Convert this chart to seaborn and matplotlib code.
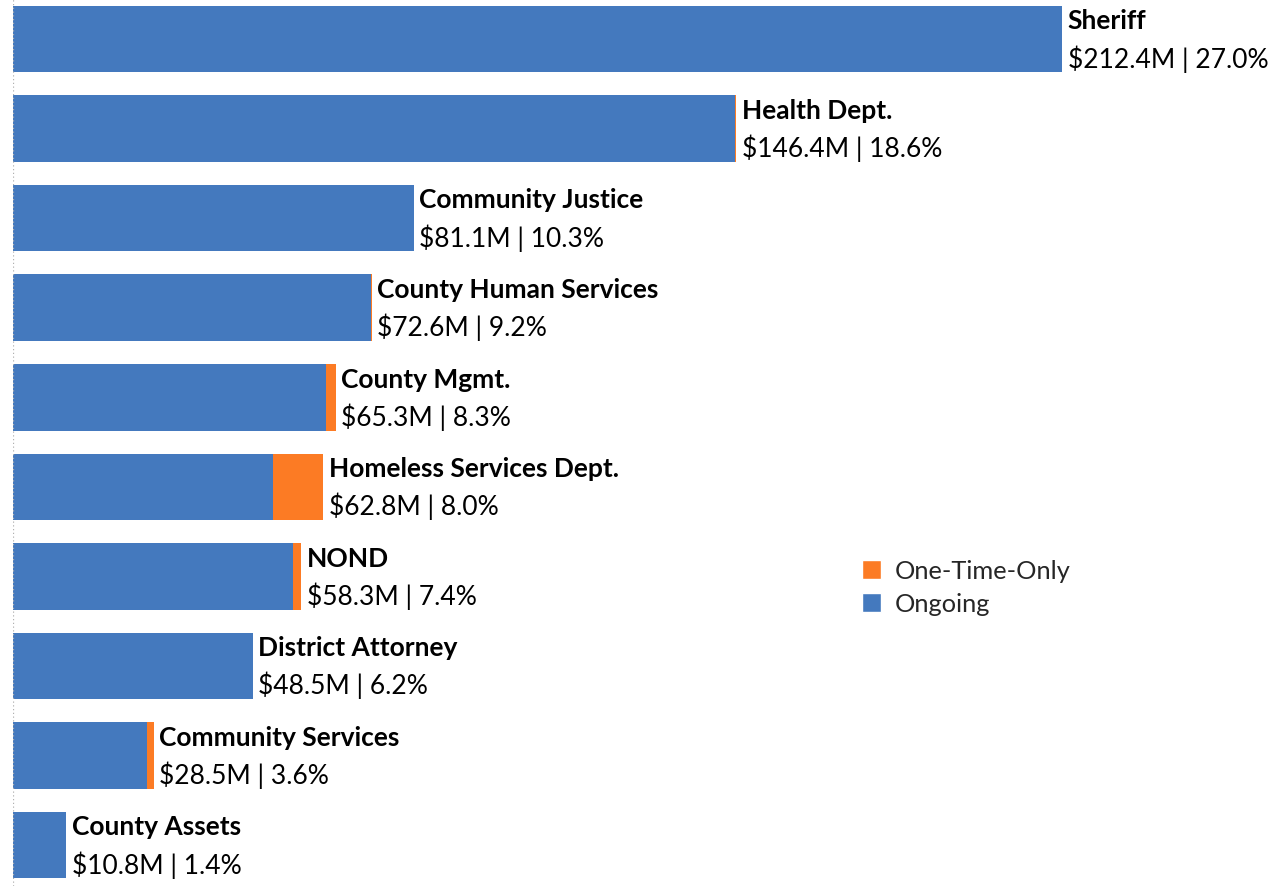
import matplotlib
matplotlib.use("Agg")
import matplotlib.pyplot as plt
import seaborn as sns
import pandas as pd
from matplotlib.patches import Patch

# General fund by department, $M
departments = ["Sheriff", "Health Dept.", "Community Justice", "County Human Services",
               "County Mgmt.", "Homeless Services Dept.", "NOND", "District Attorney",
               "Community Services", "County Assets"]
totals = [212.4, 146.4, 81.1, 72.6, 65.3, 62.8, 58.3, 48.5, 28.5, 10.8]
one_time = [0.0, 0.3, 0.0, 0.2, 1.9, 10.1, 1.6, 0.0, 1.3, 0.1]
shares = [27.0, 18.6, 10.3, 9.2, 8.3, 8.0, 7.4, 6.2, 3.6, 1.4]

ongoing = [t - o for t, o in zip(totals, one_time)]
df = pd.DataFrame({"dept": departments, "total": totals, "ongoing": ongoing})

BLUE = "#4479BE"
ORANGE = "#FC7B24"

sns.set_theme(style="white")
plt.rcParams["font.family"] = ["Lato", "DejaVu Sans"]

fig = plt.figure(figsize=(12.85, 8.87), dpi=100)
ax = fig.add_axes([13 / 1285, 0, 1 - 13 / 1285, 1])

# total bar in orange, ongoing portion drawn over it in blue
sns.barplot(data=df, y="dept", x="total", color=ORANGE, orient="h",
            width=0.744, ax=ax, saturation=1, linewidth=0)
sns.barplot(data=df, y="dept", x="ongoing", color=BLUE, orient="h",
            width=0.744, ax=ax, saturation=1, linewidth=0)

ax.set_xlim(0, 257.5)
ax.set_ylim(9.457, -0.447)
for s in ax.spines.values():
    s.set_visible(False)
ax.set_xticks([])
ax.set_yticks([])
ax.set_xlabel("")
ax.set_ylabel("")
ax.axvline(0, color="#B0B0B0", linestyle=(0, (1, 2)), lw=0.9)

for i, (name, tot, pct) in enumerate(zip(departments, totals, shares)):
    ax.annotate(name, xy=(tot, i), xytext=(4, 13.5), textcoords="offset points",
                ha="left", va="center", fontsize=19, fontweight="bold", color="black")
    ax.annotate(f"${tot:.1f}M | {pct:.1f}%", xy=(tot, i), xytext=(4, -13.5),
                textcoords="offset points", ha="left", va="center",
                fontsize=19, color="black")

handles = [Patch(facecolor=ORANGE, label="One-Time-Only"),
           Patch(facecolor=BLUE, label="Ongoing")]
fig.legend(handles=handles, loc="upper left", bbox_to_anchor=(852 / 1285, 1 - 550 / 887),
           frameon=False, fontsize=18.3, handlelength=0.75, handleheight=0.75,
           handletextpad=0.55, labelspacing=0.4, borderaxespad=0)

fig.savefig("out.png", dpi=100)
